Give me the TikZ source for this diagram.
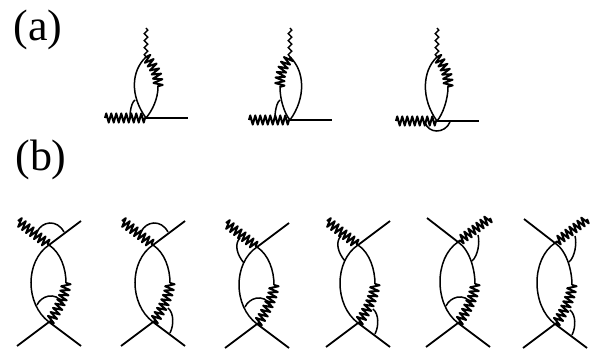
\documentclass[tikz,border=0pt]{standalone}
\usepackage{fontspec}
\setmainfont{Liberation Serif}
\usetikzlibrary{decorations.pathmorphing}

\begin{document}
\begin{tikzpicture}[
  x=1pt, y=-1pt,
  line/.style={line width=1.8pt},
  thinline/.style={line width=1.5pt},
  zig/.style={line width=2pt, line join=round, decorate, decoration={zigzag, amplitude=4.6pt, segment length=5pt}},
  wav/.style={line width=1.4pt, decorate, decoration={snake, amplitude=1.8pt, segment length=7pt}},
  lab/.style={font=\fontsize{44}{44}\selectfont, inner sep=0pt}
]
\useasboundingbox (0,0) rectangle (598,350);

\node[lab] (la) at (38,30)  {(a)};
\node[lab] (lb) at (41,160) {(b)};

% Row (a): top vertex, lower vertex, ends
\foreach \n/\x/\yt/\yb in {1/146/57/118, 2/290/57/120, 3/437/57/121} {
  \coordinate (at\n) at (\x,\yt);
  \coordinate (ab\n) at (\x,\yb);
  \coordinate (tip\n) at (\x,28);
  \coordinate (al\n) at (\x-41,\yb);
  \coordinate (ar\n) at (\x+42,\yb);
  \draw[wav] (tip\n) -- (at\n);
  \draw[zig] (al\n) -- (ab\n);
  \draw[line] (ab\n) -- (ar\n);
}

\coordinate (am1) at (158,87);
\draw[thinline] (at1) .. controls +(-15,14) and +(-16,-22) .. (ab1);
\draw[zig] (at1) .. controls +(7,8) and +(1,-12) .. (am1);
\draw[thinline] (am1) .. controls +(0,12) and +(6,-7) .. (ab1);
\coordinate (as1) at (135,100);
\coordinate (ae1) at (131,116);
\draw[thinline] (as1) .. controls +(-5,3) and +(-2,6) .. (ae1);

\coordinate (am2) at (280,87);
\draw[thinline] (at2) .. controls +(15,14) and +(16,-22) .. (ab2);
\draw[zig] (at2) .. controls +(-7,8) and +(-1,-12) .. (am2);
\draw[thinline] (am2) .. controls +(0,12) and +(-6,-7) .. (ab2);
\coordinate (as2) at (280,100);
\coordinate (ae2) at (276,117);
\draw[thinline] (as2) .. controls +(-5,3) and +(-2,6) .. (ae2);

\coordinate (am3) at (448,87);
\draw[thinline] (at3) .. controls +(-15,14) and +(-16,-22) .. (ab3);
\draw[zig] (at3) .. controls +(7,8) and +(1,-12) .. (am3);
\draw[thinline] (am3) .. controls +(0,12) and +(6,-7) .. (ab3);
\coordinate (as3) at (425,122);
\coordinate (ae3) at (450,122);
\draw[thinline] (as3) .. controls +(3,12) and +(-5,12) .. (ae3);

% Row (b): shared part of every graph
\foreach \n/\x/\yt/\yb in {1/49/245/322, 2/153/245/322, 3/257/247/324, 4/358/245/323, 5/458/242/323, 6/555/243/324} {
  \coordinate (t\n) at (\x,\yt);
  \coordinate (b\n) at (\x,\yb);
  \coordinate (ul\n) at (\x-31,\yt-24);
  \coordinate (ur\n) at (\x+32,\yt-24);
  \coordinate (dl\n) at (\x-32,\yb+24);
  \coordinate (dr\n) at (\x+32,\yb+24);
  \coordinate (m\n) at (\x+17,\yb-39);
  \draw[line] (b\n) -- (dl\n);
  \draw[line] (b\n) -- (dr\n);
  \draw[thinline] (t\n) .. controls +(-24,16) and +(-24,-18) .. (b\n);
  \draw[thinline] (t\n) .. controls +(12,8) and +(0,-14) .. (m\n);
  \draw[zig] (m\n) .. controls +(0,12) and +(7,-8) .. (b\n);
}

\foreach \n in {1,2,3,4} {
  \draw[zig] (ul\n) -- (t\n);
  \draw[line] (t\n) -- (ur\n);
}
\foreach \n in {5,6} {
  \draw[line] (ul\n) -- (t\n);
  \draw[zig] (ur\n) -- (t\n);
}

% Small arcs on top
\foreach \n in {1,2} {
  \coordinate (sa\n) at ([shift={(-12,-13)}]t\n);
  \coordinate (sb\n) at ([shift={(15,-13)}]t\n);
  \draw[thinline] (sa\n) .. controls +(5,-11) and +(-7,-13) .. (sb\n);
}
\foreach \n in {3,4} {
  \coordinate (sa\n) at ([shift={(-17,-9)}]t\n);
  \coordinate (sb\n) at ([shift={(-13,16)}]t\n);
  \draw[thinline] (sa\n) .. controls +(-6,6) and +(-7,-8) .. (sb\n);
}
\foreach \n in {5,6} {
  \coordinate (sa\n) at ([shift={(20,-7)}]t\n);
  \coordinate (sb\n) at ([shift={(14,19)}]t\n);
  \draw[thinline] (sa\n) .. controls +(2,7) and +(6,-5) .. (sb\n);
}

% Small arcs below
\foreach \n in {1,3,5} {
  \coordinate (ca\n) at ([shift={(-12,-17)}]b\n);
  \coordinate (cb\n) at ([shift={(14,-19)}]b\n);
  \draw[thinline] (ca\n) .. controls +(4,-9) and +(-8,-12) .. (cb\n);
}
\foreach \n in {2,4,6} {
  \coordinate (ca\n) at ([shift={(15,-14)}]b\n);
  \coordinate (cb\n) at ([shift={(17,11)}]b\n);
  \draw[thinline] (ca\n) .. controls +(6,5) and +(4,-8) .. (cb\n);
}

\end{tikzpicture}
\end{document}
